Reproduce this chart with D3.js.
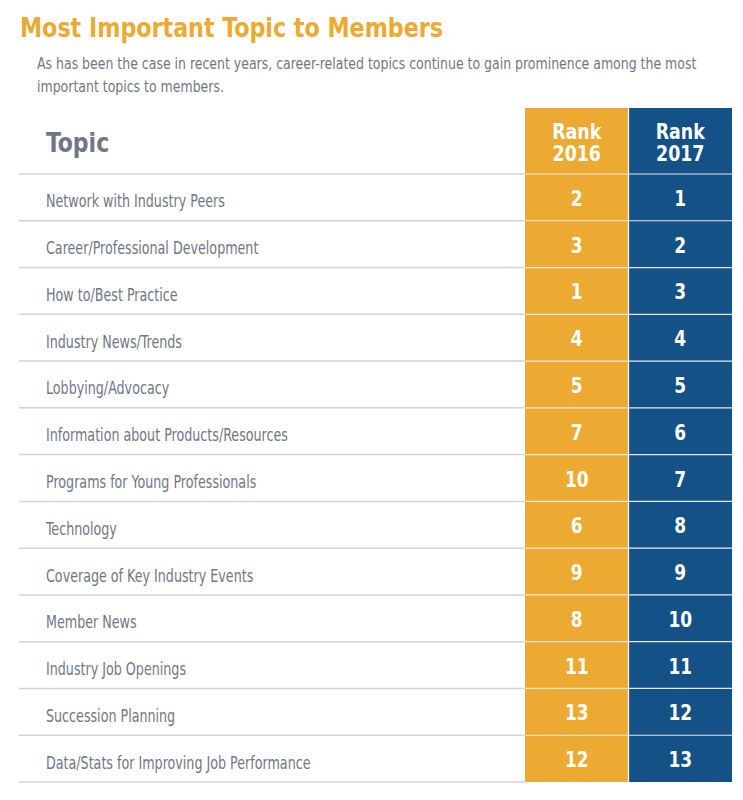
<!DOCTYPE html>
<html><head><meta charset="utf-8">
<script src="https://cdn.jsdelivr.net/npm/d3@7"></script>
<style>
body{margin:0;background:#fff;}
text{font-family:"DejaVu Sans Condensed","DejaVu Sans",sans-serif;}
</style></head>
<body><svg id="c" width="743" height="800"></svg>
<script>
const title = "Most Important Topic to Members";
const subtitle = ["As has been the case in recent years, career-related topics continue to gain prominence among the most",
                  "important topics to members."];
const topics = ["Network with Industry Peers","Career/Professional Development","How to/Best Practice","Industry News/Trends",
  "Lobbying/Advocacy","Information about Products/Resources","Programs for Young Professionals","Technology",
  "Coverage of Key Industry Events","Member News","Industry Job Openings","Succession Planning",
  "Data/Stats for Improving Job Performance"];
const rank2016 = [2,3,1,4,5,7,10,6,9,8,11,13,12];
const rank2017 = [1,2,3,4,5,6,7,8,9,10,11,12,13];
const years = ["2016","2017"];
const colColors = ["#ECAA32","#135186"];

const svg = d3.select("#c");
const orange = "#ECAA32", gray = "#6F7784";

function condense(sel, f){
  sel.each(function(){
    const w = this.getComputedTextLength();
    d3.select(this).attr("textLength", w*f).attr("lengthAdjust","spacingAndGlyphs");
  });
  return sel;
}

svg.append("text").attr("x",20).attr("y",37).attr("fill",orange)
  .style("font-size","27px").style("font-weight","bold")
  .attr("textLength",423).attr("lengthAdjust","spacingAndGlyphs").text(title);
const subG = svg.append("g").attr("transform","translate(37,0) scale(0.843,1)");
subG.selectAll("text.sub").data(subtitle).enter().append("text").attr("class","sub")
  .attr("x",0).attr("y",(d,i)=>69+i*23).attr("fill",gray).style("font-size","16.5px").text(d=>d);

const y = d3.scaleBand().domain(topics).range([174,782]);
const x = d3.scaleBand().domain(years).range([525,732]);
const headTop = 108;

years.forEach((yr,ci)=>{
  svg.append("rect").attr("x",x(yr)).attr("y",headTop).attr("width",x.bandwidth()).attr("height",782-headTop).attr("fill",colColors[ci]);
  const cx = x(yr)+x.bandwidth()/2;
  [["Rank",139],[yr,161]].forEach(([s,yy])=>{
    const t = svg.append("text").attr("x",cx).attr("y",yy).attr("fill","#fff").attr("text-anchor","middle")
      .style("font-size","21px").style("font-weight","bold").text(s);
    condense(t, 0.92);
  });
});
svg.append("line").attr("x1",x("2017")).attr("x2",x("2017")).attr("y1",headTop).attr("y2",782).attr("stroke","#fff").attr("stroke-width",1.2);

const th = svg.append("text").attr("x",46).attr("y",152).attr("fill",gray).style("font-size","26px").style("font-weight","bold").text("Topic");
condense(th, 0.94);

const lineYs = [174].concat(topics.map(t=>y(t)+y.bandwidth()));
svg.selectAll("line.g").data(lineYs).enter().append("line").attr("class","g")
  .attr("x1",19).attr("x2",525).attr("y1",d=>d).attr("y2",d=>d).attr("stroke","#D3D3D3").attr("stroke-width",1.5);
svg.selectAll("line.w").data(lineYs.slice(0,-1)).enter().append("line").attr("class","w")
  .attr("x1",525).attr("x2",732).attr("y1",d=>d).attr("y2",d=>d).attr("stroke","#E8E8E8").attr("stroke-width",1.2);

const labs = svg.selectAll("text.lab").data(topics).enter().append("text").attr("class","lab")
  .attr("x",46).attr("y",d=>y(d)+y.bandwidth()/2+10).attr("fill",gray).style("font-size","17px").text(d=>d);
condense(labs, 0.83);

[rank2016,rank2017].forEach((vals,ci)=>{
  const v = svg.selectAll("text.v"+ci).data(vals).enter().append("text").attr("class","v"+ci)
    .attr("x",x(years[ci])+x.bandwidth()/2).attr("y",(d,i)=>y(topics[i])+y.bandwidth()/2+8.5)
    .attr("text-anchor","middle").attr("fill","#fff").style("font-size","21px").style("font-weight","bold").text(d=>d);
  condense(v, 0.9);
});
</script></body></html>
